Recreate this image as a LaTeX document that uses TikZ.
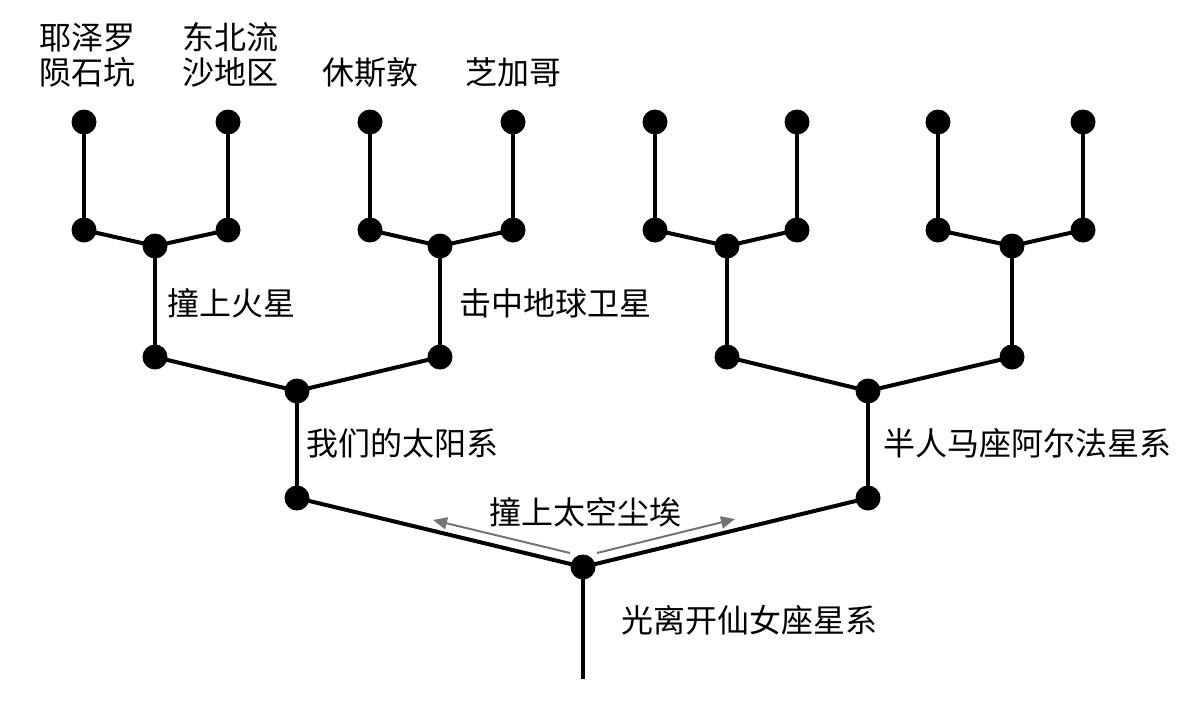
\documentclass[tikz,border=0pt]{standalone}
\usepackage{fontspec}
\setmainfont{Noto Sans CJK SC}
\usetikzlibrary{arrows.meta}
\begin{document}
\begin{tikzpicture}[x=1pt,y=-1pt,
  dot/.style={circle,fill=black,minimum size=25pt,inner sep=0pt},
  br/.style={line width=4pt,black},
  lab/.style={font=\fontsize{32}{35}\selectfont,align=center,inner sep=0pt},
  dust/.style={draw=gray!90!black,line width=2pt,-{Triangle[length=14pt,width=12pt]}}]
\useasboundingbox (0,0) rectangle (1200,702);
% root
\coordinate (bot) at (583,679);
\node[dot] (r) at (583,567) {};
\node[dot] (a) at (297,498) {};
\node[dot] (b) at (868,498) {};
\node[dot] (a1) at (297,391) {};
\node[dot] (b1) at (868,391) {};
\node[dot] (aa) at (155,357) {};
\node[dot] (ab) at (440,357) {};
\node[dot] (ba) at (727,357) {};
\node[dot] (bb) at (1012,357) {};
\node[dot] (aa1) at (155,246) {};
\node[dot] (ab1) at (440,246) {};
\node[dot] (ba1) at (727,246) {};
\node[dot] (bb1) at (1012,246) {};
\foreach \n/\x in {l1/84,l2/228,l3/370,l4/513,l5/655,l6/797,l7/938,l8/1083}{
  \node[dot] (\n) at (\x,230) {};
  \node[dot] (\n t) at (\x,122) {};
}
\draw[br] (bot) -- (r.center);
\draw[br] (a.center) -- (r.center) -- (b.center);
\draw[br] (a.center) -- (a1.center);
\draw[br] (b.center) -- (b1.center);
\draw[br] (aa.center) -- (a1.center) -- (ab.center);
\draw[br] (ba.center) -- (b1.center) -- (bb.center);
\draw[br] (aa.center) -- (aa1.center);
\draw[br] (ab.center) -- (ab1.center);
\draw[br] (ba.center) -- (ba1.center);
\draw[br] (bb.center) -- (bb1.center);
\draw[br] (l1.center) -- (aa1.center) -- (l2.center);
\draw[br] (l3.center) -- (ab1.center) -- (l4.center);
\draw[br] (l5.center) -- (ba1.center) -- (l6.center);
\draw[br] (l7.center) -- (bb1.center) -- (l8.center);
\foreach \n in {l1,l2,l3,l4,l5,l6,l7,l8}{
  \draw[br] (\n.center) -- (\n t.center);
}
% dust arrows
\coordinate (dl0) at (570,553);
\coordinate (dl1) at (433,520);
\coordinate (dr0) at (597,553);
\coordinate (dr1) at (735,519);
\draw[dust] (dl0) -- (dl1);
\draw[dust] (dr0) -- (dr1);
% labels
\node[lab] (t1) at (87,55) {耶泽罗\\陨石坑};
\node[lab] (t2) at (230,55) {东北流\\沙地区};
\node[lab] (t3) at (370,72) {休斯敦};
\node[lab] (t4) at (513,72) {芝加哥};
\node[lab] (m1) at (231,303) {撞上火星};
\node[lab] (m2) at (555,303) {击中地球卫星};
\node[lab] (s1) at (402,443) {我们的太阳系};
\node[lab] (s2) at (1027,443) {半人马座阿尔法星系};
\node[lab] (d) at (585,512) {撞上太空尘埃};
\node[lab] (g) at (749,620) {光离开仙女座星系};
\end{tikzpicture}
\end{document}
